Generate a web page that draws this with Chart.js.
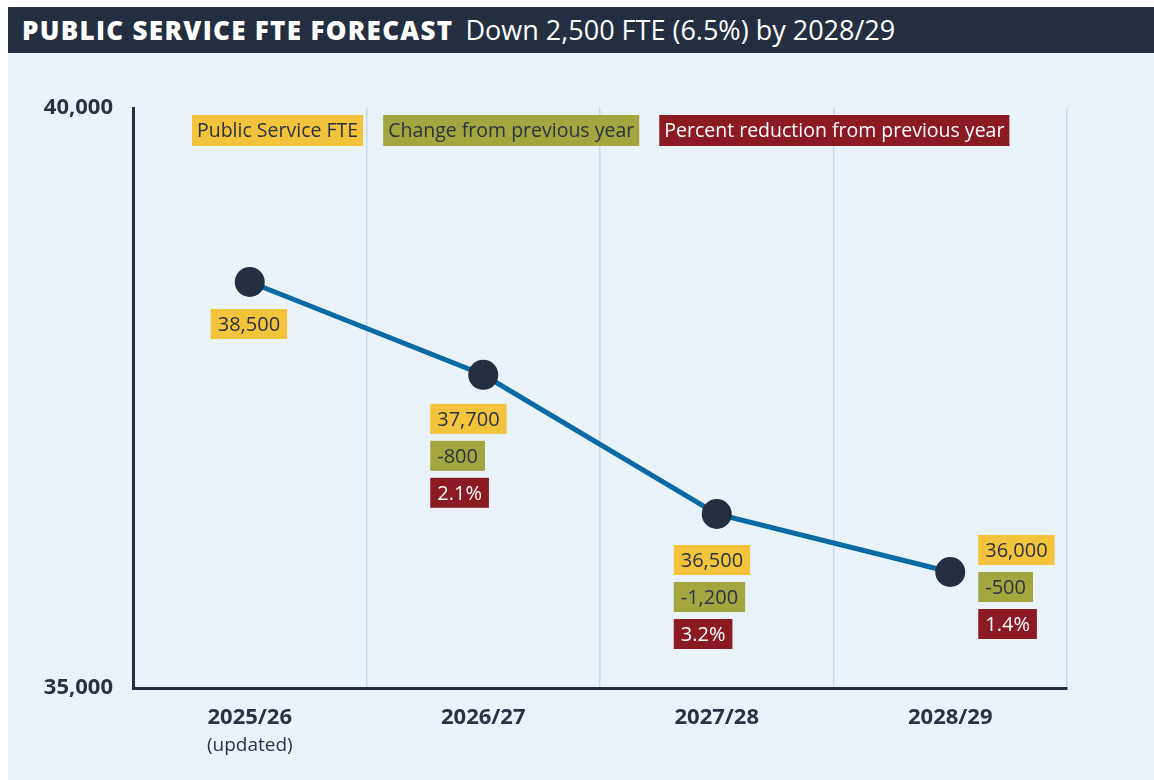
<!DOCTYPE html>
<html lang="en">
<head>
<meta charset="UTF-8">
<title>Public Service FTE Forecast</title>
<script src="https://cdn.jsdelivr.net/npm/chart.js"></script>
<style>
    body {
        margin: 0;
        background: #ffffff;
        font-family: "Open Sans", sans-serif;
    }
    #header {
        position: absolute;
        left: 8px;
        top: 7px;
        width: 1146px;
        height: 46px;
        background: #232f40;
        color: #ffffff;
        font-size: 26px;
        line-height: 46px;
        white-space: nowrap;
    }
    #header b { margin-left: 14px; font-weight: 800; letter-spacing: 1.3px; }
    #header span { margin-left: 12px; font-size: 27px; }
    #panel {
        position: absolute;
        left: 8px;
        top: 53px;
        width: 1146px;
        height: 727px;
        background: #ebf3fa;
    }
    #wrap {
        position: absolute;
        left: 0;
        top: 53px;
        width: 1154px;
        height: 727px;
    }
</style>
</head>
<body>
<div id="header"><b>PUBLIC SERVICE FTE FORECAST</b><span>Down 2,500 FTE (6.5%) by 2028/29</span></div>
<div id="panel"></div>
<div id="wrap"><canvas id="fteChart"></canvas></div>

<script>
    // data
    const years = ["2025/26", "2026/27", "2027/28", "2028/29"];
    const yearNotes = ["(updated)", "", "", ""];
    const fte = [38500, 37700, 36500, 36000];
    const change = [null, -800, -1200, -500];
    const pctReduction = [null, 2.1, 3.2, 1.4];
    const yTicks = [35000, 40000];

    const legendItems = ["Public Service FTE", "Change from previous year", "Percent reduction from previous year"];

    const YELLOW = "#f3c33c", OLIVE = "#a3a63e", RED = "#8c1a22", INK = "#2a3342";
    const boxColors = [YELLOW, OLIVE, RED];
    const textColors = [INK, INK, "#ffffff"];
    // top-left of first label box relative to its point
    const labelOffsets = [[-39, 27], [-53, 29], [-43, 31], [28, -37]];

    const fmt = n => n.toLocaleString("en-US");

    function drawBox(ctx, x, y, text, i) {
        ctx.font = "20px 'Open Sans'";
        const w = ctx.measureText(text).width + 14;
        ctx.fillStyle = boxColors[i];
        ctx.fillRect(x, y, w, 30);
        ctx.fillStyle = textColors[i];
        ctx.textBaseline = "middle";
        ctx.textAlign = "left";
        ctx.fillText(text, x + 7, y + 16);
        return w;
    }

    const labelPlugin = {
        id: "fteLabels",
        afterDatasetsDraw(chart) {
            const ctx = chart.ctx;
            ctx.save();
            // legend boxes
            let lx = 192;
            legendItems.forEach((t, i) => {
                ctx.font = "19.5px 'Open Sans'";
                const w = ctx.measureText(t).width + 10;
                ctx.fillStyle = boxColors[i];
                ctx.fillRect(lx, 62, w, 31);
                ctx.fillStyle = textColors[i];
                ctx.textBaseline = "middle";
                ctx.fillText(t, lx + 5, 78);
                lx += w + 20;
            });
            // point labels
            const pts = chart.getDatasetMeta(0).data;
            pts.forEach((p, i) => {
                const x = p.x + labelOffsets[i][0];
                let y = p.y + labelOffsets[i][1];
                const texts = [fmt(fte[i])];
                if (change[i] !== null) texts.push(fmt(change[i]));
                if (pctReduction[i] !== null) texts.push(pctReduction[i].toFixed(1) + "%");
                texts.forEach((t, k) => {
                    drawBox(ctx, x, y, t, k);
                    y += 37;
                });
            });
            // notes under x labels
            const xs = chart.scales.x;
            ctx.font = "19px 'Open Sans'";
            ctx.fillStyle = INK;
            ctx.textAlign = "center";
            yearNotes.forEach((n, i) => {
                if (n) ctx.fillText(n, xs.getPixelForValue(i), chart.chartArea.bottom + 58);
            });
            ctx.restore();
        }
    };

    new Chart(document.getElementById("fteChart"), {
        type: "line",
        data: {
            labels: years,
            datasets: [{
                data: fte,
                borderColor: "#0b69a3",
                borderWidth: 5,
                pointRadius: 15,
                pointHoverRadius: 15,
                pointBackgroundColor: "#232f40",
                pointBorderWidth: 0,
                tension: 0
            }]
        },
        options: {
            responsive: true,
            maintainAspectRatio: false,
            animation: false,
            layout: { padding: { top: 55, right: 87, left: 0, bottom: 0 } },
            plugins: { legend: { display: false }, tooltip: { enabled: false } },
            scales: {
                x: {
                    offset: true,
                    afterFit: s => { s.height = 92; },
                    grid: { offset: true, color: "#c5dcec", lineWidth: 1.5, drawTicks: false },
                    border: { color: "#232f40", width: 3 },
                    ticks: { padding: 17, color: INK, font: { family: "Open Sans", size: 22, weight: "bold" } }
                },
                y: {
                    min: 35000,
                    max: 40000,
                    afterFit: s => { s.width = 133; },
                    afterBuildTicks: s => { s.ticks = yTicks.map(v => ({ value: v })); },
                    grid: { display: false },
                    border: { color: "#232f40", width: 3 },
                    ticks: {
                        padding: 12,
                        color: INK,
                        font: { family: "Open Sans", size: 22, weight: "bold" },
                        callback: v => fmt(v)
                    }
                }
            }
        },
        plugins: [labelPlugin]
    });
</script>
</body>
</html>
